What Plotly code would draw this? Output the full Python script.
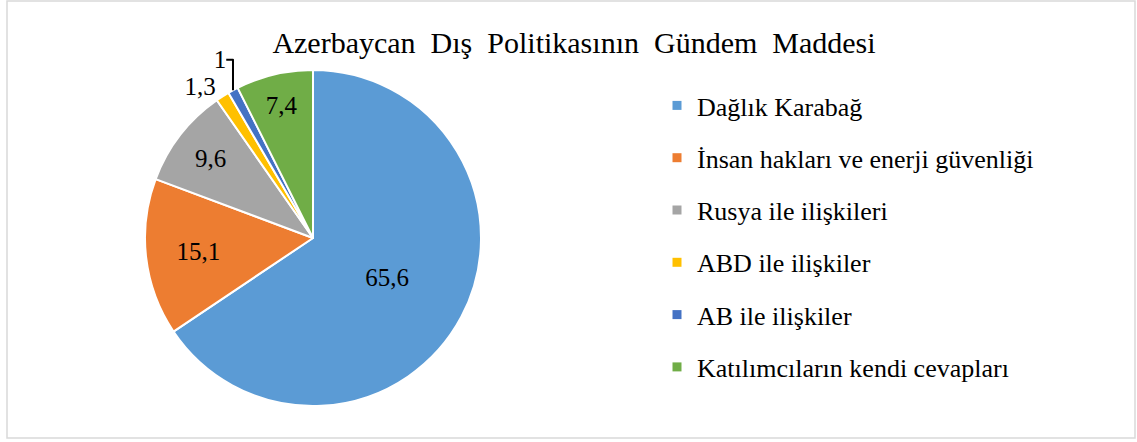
import plotly.graph_objects as go

categories = ["Dağlık Karabağ", "İnsan hakları ve enerji güvenliği", "Rusya ile ilişkileri",
              "ABD ile ilişkiler", "AB ile ilişkiler", "Katılımcıların kendi cevapları"]
values = [65.6, 15.1, 9.6, 1.3, 1.0, 7.4]
colors = ["#5B9BD5", "#ED7D31", "#A5A5A5", "#FFC000", "#4472C4", "#70AD47"]
text_pos = ["inside", "inside", "inside", "outside", "outside", "inside"]

W, H = 1137, 442
FONT = "Liberation Serif"

fig = go.Figure()
fig.add_trace(go.Pie(
    labels=categories, values=values, sort=False, direction="clockwise", rotation=0,
    marker=dict(colors=colors, line=dict(color="white", width=2)),
    textinfo="value", textposition=text_pos, insidetextorientation="horizontal",
    textfont=dict(family=FONT, size=25, color="black"),
    showlegend=False, hoverinfo="label+value",
    domain=dict(x=[(313 - 168) / W, (313 + 168) / W], y=[(204 - 168) / H, (204 + 168) / H]),
))

for c, col in zip(categories, colors):
    fig.add_trace(go.Scatter(x=[None], y=[None], mode="markers", name=c, legendgroup=c,
                             marker=dict(symbol="square", size=9, color=col), showlegend=True))

fig.update_layout(
    width=W, height=H, margin=dict(l=0, r=0, t=0, b=0),
    paper_bgcolor="white", plot_bgcolor="white",
    separators=",.",
    title=dict(text="Azerbaycan\u00a0 Dış\u00a0 Politikasının\u00a0 Gündem\u00a0 Maddesi",
               x=574 / W, xanchor="center", y=1 - 42 / H, yanchor="middle",
               font=dict(family=FONT, size=30, color="black")),
    legend=dict(x=657 / W, xanchor="left", y=1 - 82 / H, yanchor="top",
                font=dict(family=FONT, size=26, color="black"),
                tracegroupgap=15.5, bgcolor="rgba(0,0,0,0)"),
    xaxis=dict(visible=False), yaxis=dict(visible=False),
    shapes=[dict(type="rect", xref="paper", yref="paper",
                 x0=7 / W, x1=1135 / W, y0=4 / H, y1=441 / H,
                 line=dict(color="#D9D9D9", width=1.5))],
)

fig.write_html("out.html", config={"displayModeBar": False},
               post_script="document.body.style.margin='0';")
